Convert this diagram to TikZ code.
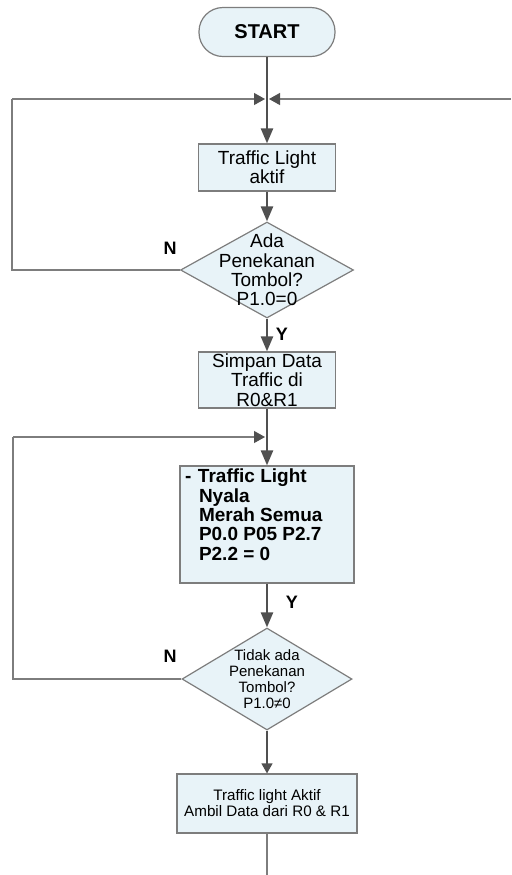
\documentclass[tikz,border=0pt]{standalone}
\usepackage{fontspec}
\setmainfont{Liberation Sans}
\usetikzlibrary{arrows.meta,positioning,shapes.geometric}
\definecolor{boxfill}{RGB}{232,243,248}
\definecolor{linec}{RGB}{80,80,80}
\definecolor{edgec}{RGB}{125,125,125}

\begin{document}
\begin{tikzpicture}[x=0.5pt,y=-0.5pt,
  every node/.style={font=\fontsize{9.5}{9.7}\selectfont},
  term/.style={draw=edgec, fill=boxfill, line width=0.6pt, rounded corners=12pt, minimum width=68pt, minimum height=24.5pt, font=\fontsize{10}{12}\selectfont\bfseries},
  proc/.style={draw=edgec, fill=boxfill, line width=0.6pt, align=center, inner sep=0pt},
  dec/.style={draw=edgec, fill=boxfill, line width=0.6pt, diamond, inner sep=0pt},
  dectxt/.style={align=center, inner sep=0pt},
  yn/.style={font=\fontsize{9}{10}\selectfont\bfseries, inner sep=0pt},
  flow/.style={draw=linec, line width=1.2pt, -{Triangle[width=6pt,length=7.5pt]}},
  tflow/.style={draw=linec, line width=0.6pt, -{Triangle[width=5.5pt,length=5pt]}},
  back/.style={draw=edgec, line width=0.6pt},
  tipin/.style={-{Triangle[width=6pt,length=5.5pt,color=linec]}, shorten >=1pt}]
  \useasboundingbox (0,0) rectangle (511,875);
  % main column
  \node[term] (start) at (267,32) {START};
  \node[proc, minimum width=68.5pt, minimum height=23.5pt] (tla) at (267,167.5) {Traffic Light\\aktif};
  \node[dec, minimum width=86.5pt, minimum height=48pt,
    label={[dectxt]center:{Ada\\Penekanan\\Tombol?\\P1.0=0}}] (d1) at (267,270) {};
  \node[proc, minimum width=68.5pt, minimum height=28pt] (sim) at (267,380) {Simpan Data\\Traffic di\\R0\&R1};
  \node[proc, inner xsep=2.5pt, minimum width=87pt, minimum height=58.5pt,
    font=\fontsize{9.5}{9.7}\selectfont\bfseries] (tl) at (267,524.5)
    {\parbox[c][58.5pt][t]{82pt}{\vspace*{1.5pt}\makebox[6.5pt][l]{-}Traffic Light\\
     \hspace*{7pt}Nyala\\ \hspace*{7pt}Merah Semua\\ \hspace*{7pt}P0.0 P05 P2.7\\ \hspace*{7pt}P2.2 = 0}};
  \node[dec, minimum width=85pt, minimum height=51pt,
    label={[dectxt, font=\fontsize{7.5}{8.1}\selectfont]center:{Tidak ada\\Penekanan\\Tombol?\\P1.0≠0}}] (d2) at (267,679) {};
  \node[proc, minimum width=90pt, minimum height=29.5pt, font=\fontsize{7.6}{8}\selectfont] (act) at (267,803.5)
    {Traffic light Aktif\\Ambil Data dari R0 \& R1};
  % labels
  \node[yn] (n1) at (170,248) {N};
  \node[yn] (y1) at (282,334) {Y};
  \node[yn] (y2) at (292,602) {Y};
  \node[yn] (n2) at (170,656) {N};
  % loop points
  \coordinate (merge) at (267,99);
  \coordinate (rend) at (511,99);
  \coordinate (loopA) at (12,99);
  \coordinate (join) at (267,437);
  \coordinate (loopB) at (13,437);
  \coordinate (bend) at (267,875);
  % connectors
  \draw[back] (d1.west) -| (loopA);
  \draw[back, tipin] (loopA) -- (merge);
  \draw[back, tipin] (rend) -- (merge);
  \draw[back] (d2.west) -| (loopB);
  \draw[back, tipin] (loopB) -- (join);
  \draw[flow] (start) -- (tla);
  \draw[flow] (tla) -- (d1);
  \draw[flow] (d1) -- (sim);
  \draw[flow] (sim) -- (tl);
  \draw[flow] (tl) -- (d2);
  \draw[tflow] (d2) -- (act);
  \draw[back] (act) -- (bend);
\end{tikzpicture}
\end{document}
